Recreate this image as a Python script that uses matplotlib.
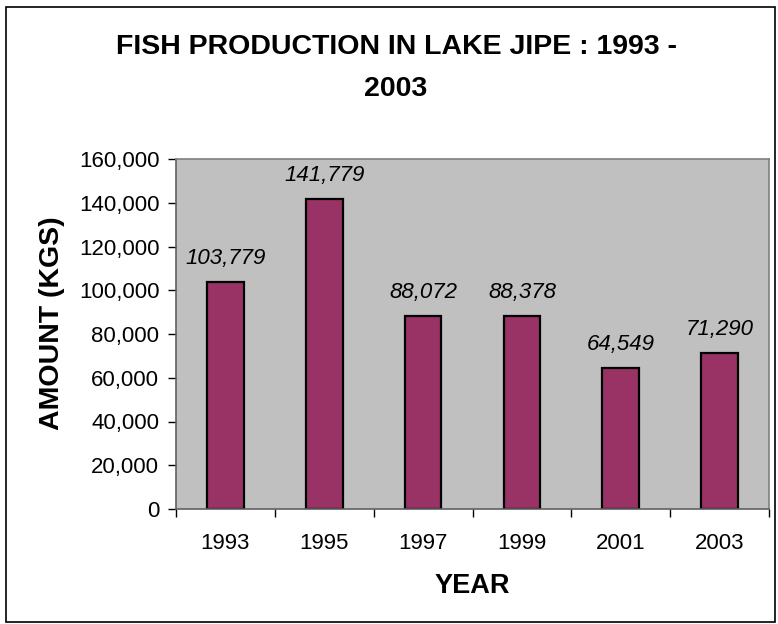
import matplotlib.pyplot as plt
from matplotlib.patches import Rectangle
from matplotlib.ticker import FuncFormatter, MultipleLocator

plt.rcParams['font.family'] = ['Liberation Sans', 'DejaVu Sans']

years = ["1993", "1995", "1997", "1999", "2001", "2003"]
amounts = [103779, 141779, 88072, 88378, 64549, 71290]

BAR = "#993366"
BG = "#C0C0C0"

fig = plt.figure(figsize=(7.78, 6.24), dpi=100)
# outer chart frame
fig.patches.append(Rectangle((6/778, 2/624), 769/778, 615/624, transform=fig.transFigure,
                             fill=False, edgecolor="black", linewidth=1.2))

ax = fig.add_axes([176/778, 1 - 509/624, 593/778, 350/624])
ax.set_facecolor(BG)
x = range(len(years))
ax.bar(x, amounts, width=0.37, color=BAR, edgecolor="black", linewidth=1.6, zorder=2)

for xi, v in zip(x, amounts):
    ax.text(xi, v + 6000, f"{v:,}", ha="center", va="bottom",
            fontsize=16, style="italic")

ax.set_xlim(-0.5, len(years) - 0.5)
ax.set_ylim(0, 160000)
ax.yaxis.set_major_locator(MultipleLocator(20000))
ax.yaxis.set_major_formatter(FuncFormatter(lambda v, p: f"{int(v):,}"))
ax.set_xticks([i - 0.5 for i in range(len(years) + 1)], minor=False)
ax.set_xticklabels([])
ax.set_xticks(list(x), minor=True)
ax.set_xticklabels(years, minor=True)
ax.tick_params(axis="x", which="minor", length=0, pad=17, labelsize=16)
ax.tick_params(axis="x", which="major", length=6, width=1, direction="out")
ax.tick_params(axis="y", length=6, width=1, direction="out", labelsize=16, pad=6)

for side in ["top", "right"]:
    ax.spines[side].set_color("#808080")
for side in ["left", "bottom"]:
    ax.spines[side].set_color("#606060")
for s in ax.spines.values():
    s.set_linewidth(1.2)

ax.set_xlabel("YEAR", fontsize=19.5, fontweight="bold", labelpad=14)
fig.text(52/778, 1 - 323/624, "AMOUNT (KGS)", rotation=90, ha="center", va="center",
         fontsize=20.5, fontweight="bold")

fig.text(396/778, 1 - 68/624, "FISH PRODUCTION IN LAKE JIPE : 1993 -\n2003",
         ha="center", va="center", fontsize=20.5, fontweight="bold", linespacing=1.85)

fig.savefig("out.png", dpi=100)
